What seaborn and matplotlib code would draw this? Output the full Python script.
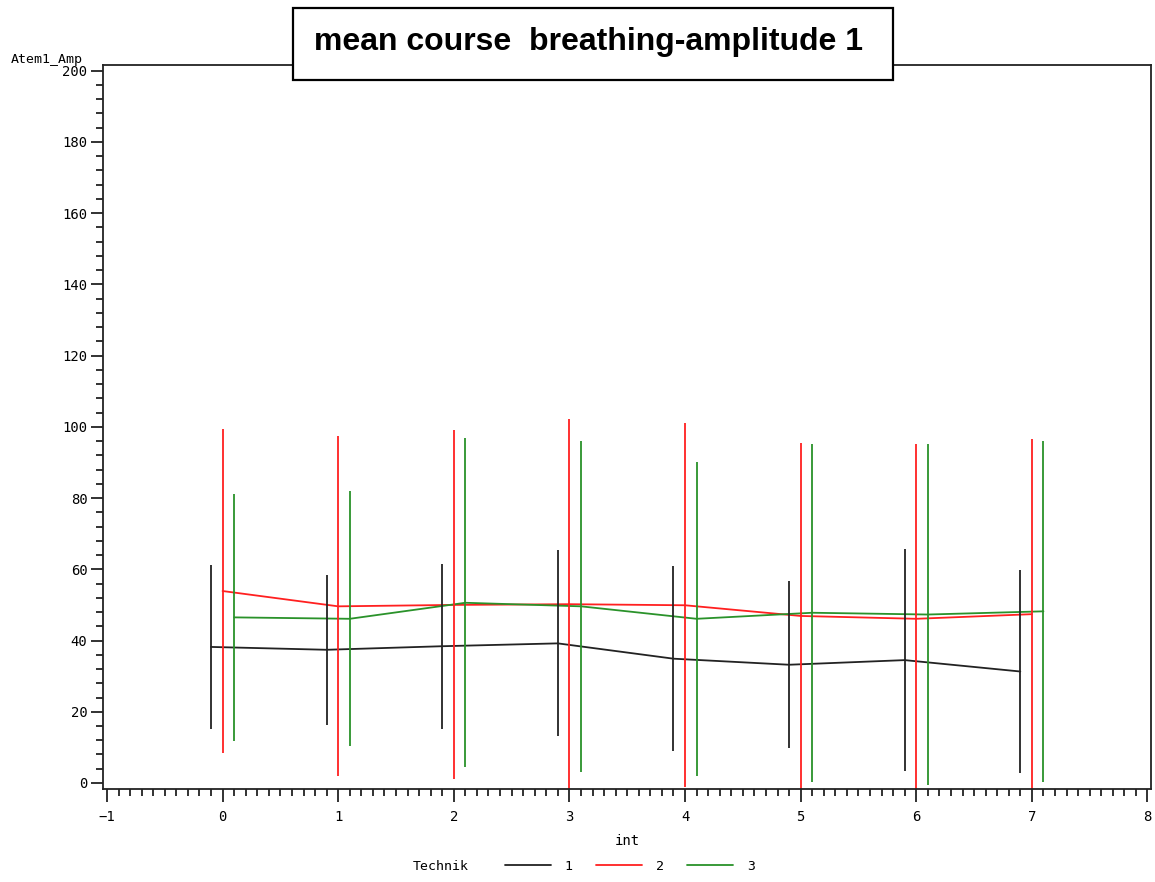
import numpy as np
import pandas as pd
import matplotlib
matplotlib.use("Agg")
import matplotlib.pyplot as plt
from matplotlib.lines import Line2D
from matplotlib.patches import Rectangle
from matplotlib.ticker import MultipleLocator
import seaborn as sns

# mean and SD per interval
intervals = [0, 1, 2, 3, 4, 5, 6, 7]
techniques = ['1', '2', '3']
offsets = [-0.1, 0.0, 0.1]

mean_t1 = [38.2, 37.4, 38.4, 39.2, 34.9, 33.2, 34.5, 31.3]
sd_t1 = [23.0, 21.0, 23.2, 26.1, 26.0, 23.5, 31.2, 28.6]

mean_t2 = [53.9, 49.6, 50.0, 50.2, 49.9, 46.9, 46.1, 47.4]
sd_t2 = [45.4, 47.7, 49.0, 52.0, 51.1, 48.7, 49.1, 49.1]

mean_t3 = [46.5, 46.1, 50.6, 49.6, 46.1, 47.8, 47.3, 48.2]
sd_t3 = [34.6, 35.8, 46.2, 46.4, 44.1, 47.4, 47.9, 47.9]

colors = {'1': '#222222', '2': '#ff2020', '3': '#2a922a'}

rows = []
for tech, off, means, sds in zip(techniques, offsets,
                                 [mean_t1, mean_t2, mean_t3],
                                 [sd_t1, sd_t2, sd_t3]):
    for i, m, s in zip(intervals, means, sds):
        rows.append({'int': i + off, 'Technik': tech, 'mean': m, 'sd': s})
df = pd.DataFrame(rows)

sns.set_style('ticks')
plt.rcParams['text.color'] = 'black'
fig = plt.figure(figsize=(11.55, 8.82), dpi=100)
ax = fig.add_axes([0.0889, 0.105, 0.9076, 0.8213])

sns.lineplot(data=df, x='int', y='mean', hue='Technik', palette=colors,
             estimator=None, legend=False, linewidth=1.3, ax=ax)

for tech in techniques:
    d = df[df['Technik'] == tech]
    ax.vlines(d['int'], d['mean'] - d['sd'], d['mean'] + d['sd'],
              color=colors[tech], linewidth=1.3)

ax.set_xlim(-1.037, 8.03)
ax.set_ylim(-1.8, 201.6)
ax.xaxis.set_major_locator(MultipleLocator(1))
ax.xaxis.set_minor_locator(MultipleLocator(0.1))
ax.yaxis.set_major_locator(MultipleLocator(20))
ax.yaxis.set_minor_locator(MultipleLocator(4))
ax.tick_params(which='major', length=9, width=1.3, direction='out',
               colors='#222222', labelcolor='black')
ax.tick_params(which='minor', length=5, width=1.3, direction='out', colors='#222222')
ax.tick_params(axis='x', pad=6)
ax.tick_params(axis='y', pad=2)
for lab in ax.get_xticklabels() + ax.get_yticklabels():
    lab.set_family('DejaVu Sans Mono')
    lab.set_fontsize(10)
for sp in ax.spines.values():
    sp.set_linewidth(1.3)
    sp.set_color('#222222')
ax.set_xlabel('')
ax.set_ylabel('')

mono = 'DejaVu Sans Mono'
fig.text(0.009, 0.932, 'Atem1_Amp', family=mono, fontsize=9.5, ha='left', va='center')
fig.text(0.543, 0.047, 'int', family=mono, fontsize=10, ha='center', va='center')
fig.text(0.357, 0.018, 'Technik', family=mono, fontsize=9.5, ha='left', va='center')

handles = [Line2D([], [], color=colors[t], linewidth=1.3) for t in techniques]
fig.legend(handles, techniques, loc='center left', bbox_to_anchor=(0.427, 0.018),
           ncol=3, frameon=False, handlelength=3.5, columnspacing=1.8,
           handletextpad=1.0, prop={'family': mono, 'size': 9.5})

# title box overlapping the top of the axes
fig.add_artist(Rectangle((0.2537, 0.9093), 0.5195, 0.0816, transform=fig.transFigure,
                         facecolor='white', edgecolor='black', linewidth=1.6, zorder=5))
fig.text(0.5095, 0.9525, 'mean course  breathing-amplitude 1',
         family='Liberation Sans', fontweight='bold', fontsize=23,
         ha='center', va='center', color='black', zorder=6)

fig.savefig('out.png', dpi=100)
